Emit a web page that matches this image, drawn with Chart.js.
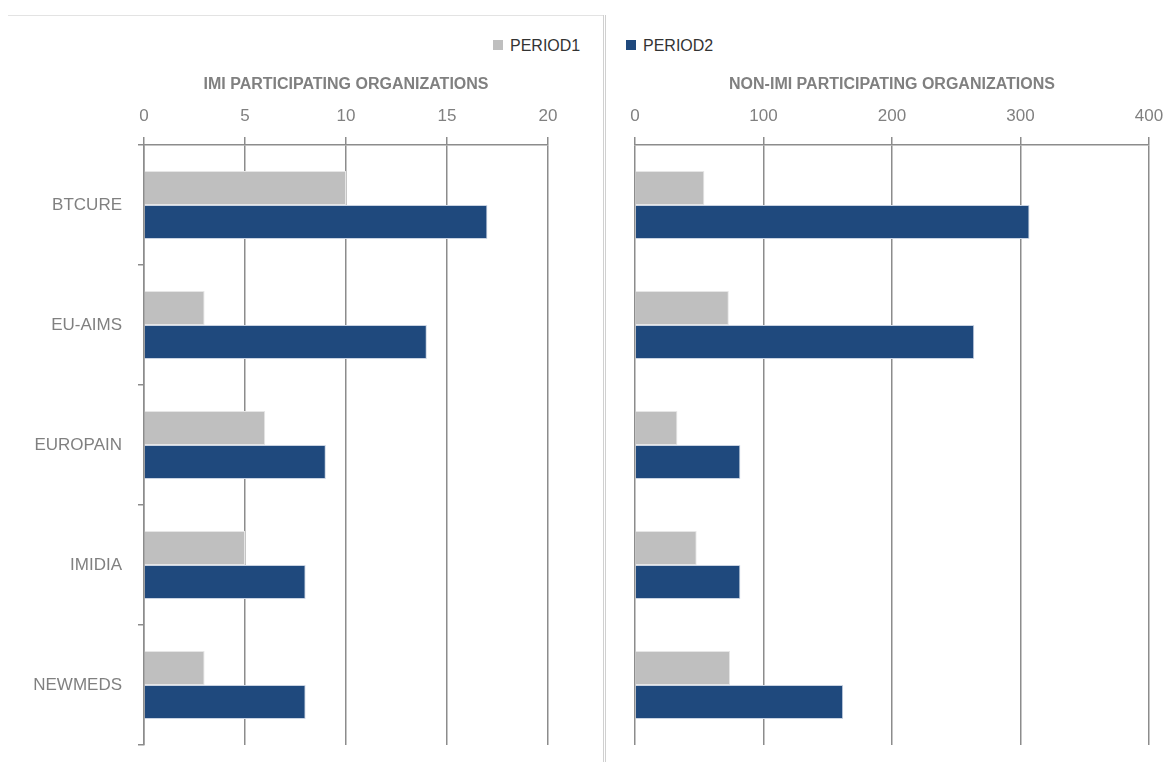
<!DOCTYPE html>
<html>
<head>
<meta charset="utf-8">
<script src="https://cdn.jsdelivr.net/npm/chart.js@4"></script>
<style>
  body { margin: 0; background: #fff; font-family: "Liberation Sans", Arial, sans-serif; }
  #wrap { position: relative; width: 1168px; height: 762px; overflow: hidden; }
  canvas { position: absolute; top: 0; }
  #imi { left: 0; }
  #nonimi { left: 606px; }
  .sep { position: absolute; left: 603px; top: 15px; width: 1px; height: 747px; border-left: 1px solid #d0d0d0; border-right: 1px solid #d0d0d0; }
  .topline { position: absolute; left: 8px; top: 15px; width: 596px; height: 0; border-top: 1px solid #e3e3e3; }
  .legend { position: absolute; top: 37px; font-size: 16px; color: #333; }
  .legend span { display: inline-block; width: 10px; height: 10px; margin-right: 7px; vertical-align: 1px; }
</style>
</head>
<body>
<div id="wrap">
  <div class="topline"></div>
  <div class="sep"></div>
  <div class="legend" style="left:493px"><span style="background:#bfbfbf"></span>PERIOD1</div>
  <div class="legend" style="left:626px"><span style="background:#1f497d"></span>PERIOD2</div>
  <canvas id="imi" width="604" height="762"></canvas>
  <canvas id="nonimi" width="562" height="762"></canvas>
</div>
<script>
// data
const categories = ["BTCURE", "EU-AIMS", "EUROPAIN", "IMIDIA", "NEWMEDS"];
const seriesNames = ["PERIOD1", "PERIOD2"];
const imiPeriod1 = [10, 3, 6, 5, 3];
const imiPeriod2 = [17, 14, 9, 8, 8];
const nonImiPeriod1 = [54, 73, 33, 48, 74];
const nonImiPeriod2 = [307, 264, 82, 82, 162];
const imiTicks = [0, 5, 10, 15, 20];
const nonImiTicks = [0, 100, 200, 300, 400];

const gridGray = "#8c8c8c";
const labelGray = "#808080";

function makeChart(id, p1, p2, ticks, title, showCats, pad) {
  return new Chart(document.getElementById(id), {
    type: "bar",
    data: {
      labels: categories,
      datasets: [
        { label: seriesNames[0], data: p1, backgroundColor: "#bfbfbf", borderColor: "#e6e6e6", borderWidth: 1 },
        { label: seriesNames[1], data: p2, backgroundColor: "#1f497d", borderColor: "#c9d3e2", borderWidth: 1 }
      ]
    },
    options: {
      indexAxis: "y",
      responsive: false,
      animation: false,
      devicePixelRatio: 1,
      layout: { padding: pad },
      categoryPercentage: 0.567,
      barPercentage: 1.0,
      plugins: { legend: { display: false }, tooltip: { enabled: false } },
      scales: {
        x: {
          position: "top",
          min: ticks[0],
          max: ticks[ticks.length - 1],
          afterBuildTicks: (s) => { s.ticks = ticks.map(v => ({ value: v })); },
          afterFit: (s) => { s.height = 85; s.paddingLeft = 0; s.paddingRight = 0; },
          grid: { color: gridGray, lineWidth: 1.5, tickLength: 8, tickColor: gridGray },
          border: { color: gridGray, width: 1.5 },
          ticks: { color: labelGray, font: { size: 17, family: "Liberation Sans" }, padding: 10, maxRotation: 0 },
          title: {
            display: true, text: title, color: labelGray,
            font: { size: 16, weight: "bold", family: "Liberation Sans" },
            padding: { top: 15, bottom: 0 }
          }
        },
        y: {
          display: showCats,
          afterFit: (s) => { s.width = showCats ? 144 : 0; s.paddingTop = 0; s.paddingBottom = 0; },
          grid: { drawOnChartArea: false, tickLength: 6, color: gridGray, lineWidth: 1.5 },
          border: { color: gridGray, width: 1.5 },
          ticks: { color: labelGray, font: { size: 17, family: "Liberation Sans" }, padding: 16 }
        }
      }
    }
  });
}

makeChart("imi", imiPeriod1, imiPeriod2, imiTicks, "IMI PARTICIPATING ORGANIZATIONS", true,
  { top: 60, left: 0, right: 56, bottom: 17 });
makeChart("nonimi", nonImiPeriod1, nonImiPeriod2, nonImiTicks, "NON-IMI PARTICIPATING ORGANIZATIONS", false,
  { top: 60, left: 29, right: 19, bottom: 17 });
</script>
</body>
</html>
